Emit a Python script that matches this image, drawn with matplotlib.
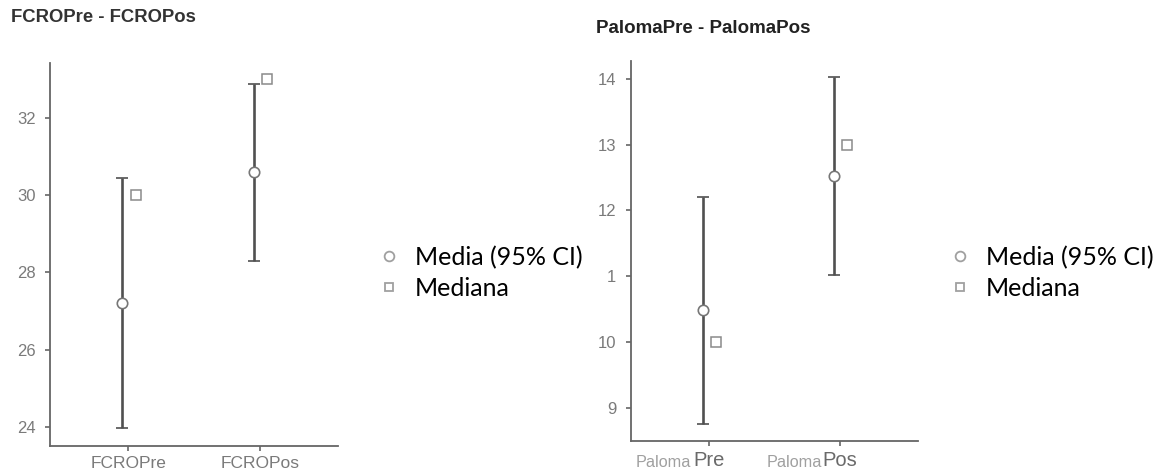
import matplotlib as mpl
import matplotlib.pyplot as plt
from matplotlib.lines import Line2D

# ---- data ----
fcro_groups = ['FCROPre', 'FCROPos']
fcro_mean = [27.2, 30.6]
fcro_lower = [23.97, 28.3]
fcro_upper = [30.45, 32.88]
fcro_median = [30.0, 33.0]
fcro_yticks = [24, 26, 28, 30, 32]

paloma_groups = ['Pre', 'Pos']
paloma_mean = [10.48, 12.52]
paloma_lower = [8.76, 11.02]
paloma_upper = [12.21, 14.02]
paloma_median = [10.0, 13.0]
paloma_yticks = [9, 10, 11, 12, 13, 14]
paloma_yticklabels = ['9', '10', '1', '12', '13', '14']

legend_labels = ['Media (95% CI)', 'Mediana']

# ---- style ----
mpl.rcParams['font.family'] = ['Liberation Sans', 'DejaVu Sans']
AXCOL = '#666666'
BARCOL = '#505050'
MKCOL = '#8a8a8a'
TICKCOL = '#7a7a7a'


def draw_panel(ax, groups, mean, lower, upper, median, ylim):
    x = list(range(len(groups)))
    xm = [i - 0.045 for i in x]
    xd = [i + 0.055 for i in x]
    yerr = [[m - lo for m, lo in zip(mean, lower)],
            [up - m for m, up in zip(mean, upper)]]
    ax.errorbar(xm, mean, yerr=yerr, fmt='o', color=BARCOL, elinewidth=1.9,
                capsize=4.3, capthick=1.9, ms=7.5, mfc='white', mec='#777777',
                mew=1.2, zorder=3)
    ax.plot(xd, median, ls='none', marker='s', ms=6.5, mfc='white',
            mec=MKCOL, mew=1.1, zorder=3)
    ax.set_xlim(-0.595, 1.595)
    ax.set_ylim(*ylim)
    ax.set_xticks(x)
    for s in ['top', 'right']:
        ax.spines[s].set_visible(False)
    for s in ['left', 'bottom']:
        ax.spines[s].set_color(AXCOL)
        ax.spines[s].set_linewidth(1.3)
    ax.tick_params(colors=AXCOL, labelcolor=TICKCOL, labelsize=12, length=3.5,
                   width=1.2, pad=7)
    ax.tick_params(axis='x', labelsize=12.5, pad=4)


fig = plt.figure(figsize=(11.61, 4.72), dpi=100)

ax1 = fig.add_axes([0.0431, 0.0551, 0.2481, 0.8114])
draw_panel(ax1, fcro_groups, fcro_mean, fcro_lower, fcro_upper, fcro_median,
           (23.51, 33.42))
ax1.set_yticks(fcro_yticks)
ax1.set_xticklabels(fcro_groups)

ax2 = fig.add_axes([0.5435, 0.0663, 0.2472, 0.8045])
draw_panel(ax2, paloma_groups, paloma_mean, paloma_lower, paloma_upper,
           paloma_median, (8.5, 14.27))
ax2.set_yticks(paloma_yticks)
ax2.set_yticklabels(paloma_yticklabels)
ax2.set_xticklabels(paloma_groups, fontsize=14.5, color='#6a6a6a')
ax2.tick_params(axis='x', pad=4)
for i in range(len(paloma_groups)):
    ax2.annotate('Paloma', (i, 0), xycoords=('data', 'axes fraction'),
                 xytext=(-13, -15.5), textcoords='offset points',
                 ha='right', va='center', fontsize=11.7, color='#a0a0a0')

fig.text(0.0095, 0.962, 'FCROPre - FCROPos', fontsize=13.3, fontweight='bold',
         color='#333333', va='center')
fig.text(0.5133, 0.940, 'PalomaPre - PalomaPos', fontsize=13.5,
         fontweight='bold', color='#222222', va='center')

handles = [Line2D([], [], ls='none', marker='o', ms=7, mfc='white',
                  mec='#a0a0a0', mew=1.3),
           Line2D([], [], ls='none', marker='s', ms=6, mfc='white',
                  mec='#a0a0a0', mew=1.3)]
for xa in [0.3239, 0.8158]:
    fig.legend(handles, legend_labels, loc='center left',
               bbox_to_anchor=(xa, 0.422), frameon=False,
               prop={'family': 'Lato', 'size': 18}, handlelength=1.0,
               handletextpad=0.55, labelspacing=0.33, borderpad=0,
               borderaxespad=0)

fig.savefig('out.png', dpi=100)
